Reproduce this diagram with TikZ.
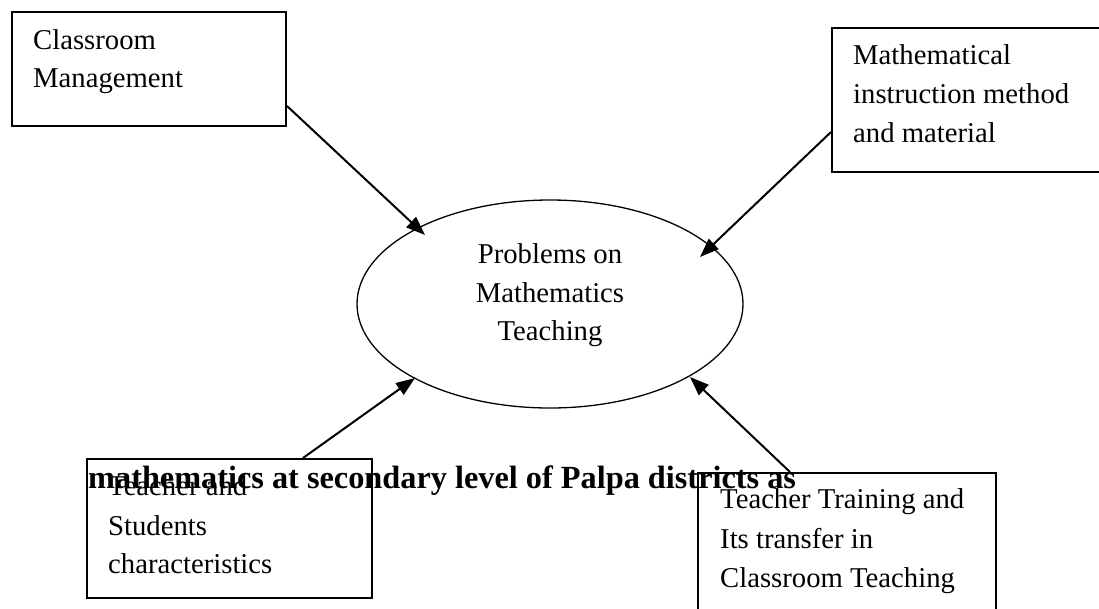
\documentclass[tikz,border=0pt]{standalone}
\usepackage{fontspec}
\setmainfont{Liberation Serif}
\usetikzlibrary{arrows.meta,shapes.geometric}
\begin{document}
\begin{tikzpicture}[x=1pt,y=-1pt,
  boxstyle/.style={draw,line width=2pt,rectangle,inner sep=0pt},
  lbl/.style={anchor=base west,inner sep=0pt,font=\fontsize{28.7}{34}\selectfont},
  clbl/.style={anchor=base,inner sep=0pt,font=\fontsize{28.7}{34}\selectfont},
  boldlbl/.style={anchor=base west,inner sep=0pt,font=\fontsize{32.3}{38}\selectfont\bfseries},
  arrowstyle/.style={line width=2pt,-{Triangle[length=19pt,width=14pt]}},
  ovalstyle/.style={draw,ellipse,line width=1.3pt,inner sep=0pt,minimum width=386pt,minimum height=208pt}
]
\useasboundingbox (0,0) rectangle (1099,608);
% boxes
\node[boxstyle,minimum width=274pt,minimum height=114pt] (b1) at (149,69) {};
\node[boxstyle,minimum width=278pt,minimum height=144pt] (b2) at (971,100) {};
\node[boxstyle,minimum width=285pt,minimum height=139pt] (b3) at (229.5,528.5) {};
\node[boxstyle,minimum width=298pt,minimum height=147pt] (b4) at (847,546.5) {};
\node[ovalstyle] (e) at (550,304) {};
% texts
\node[lbl] (t1a) at (33,49) {Classroom};
\node[lbl] (t1b) at (33,87) {Management};
\node[lbl] (t2a) at (853,64) {Mathematical};
\node[lbl] (t2b) at (853,103) {instruction method};
\node[lbl] (t2c) at (853,142) {and material};
\node[clbl] (tea) at (550,263) {Problems on};
\node[clbl] (teb) at (550,302) {Mathematics};
\node[clbl] (tec) at (550,340) {Teaching};
\node[lbl] (t3a) at (108,495) {Teacher and};
\node[lbl] (t3b) at (108,535) {Students};
\node[lbl] (t3c) at (108,573) {characteristics};
\node[lbl] (t4a) at (720,508) {Teacher Training and};
\node[lbl] (t4b) at (720,548) {Its transfer in};
\node[lbl] (t4c) at (720,587) {Classroom Teaching};
\node[boldlbl] (bold) at (88,488) {mathematics at secondary level of Palpa districts as};
% arrow tips
\coordinate (p1) at (425,235);
\coordinate (p2) at (700,257);
\coordinate (p3) at (415,378);
\coordinate (p4) at (690,377);
\draw[arrowstyle] ([yshift=-37pt]b1.east) -- (p1);
\draw[arrowstyle] ([yshift=-32pt]b2.west) -- (p2);
\draw[arrowstyle] ([xshift=73.5pt]b3.north) -- (p3);
\draw[arrowstyle] ([xshift=-57pt]b4.north) -- (p4);
\end{tikzpicture}
\end{document}
